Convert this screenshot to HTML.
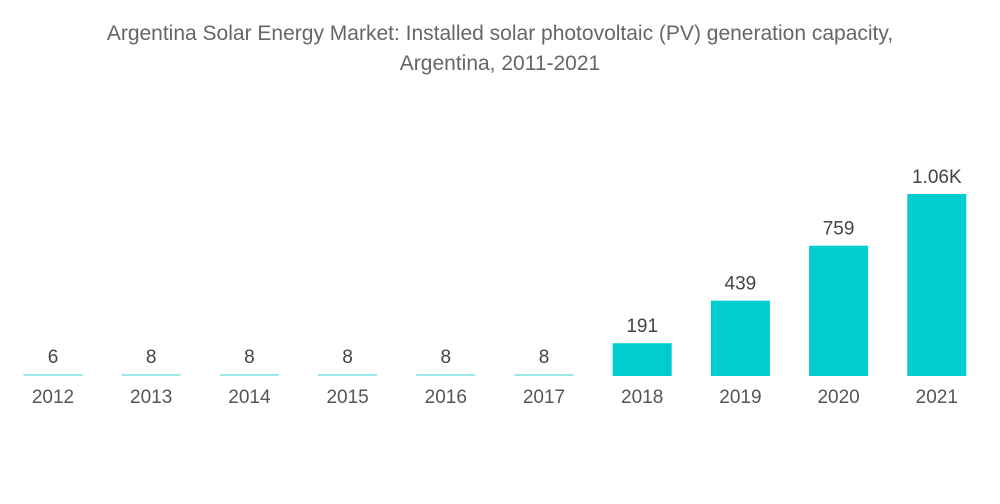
<!DOCTYPE html>
<html><head><meta charset="utf-8"><style>
body{margin:0;background:#fff;font-family:"Liberation Sans",sans-serif;}
svg{display:block}
</style></head><body>
<svg id="chart" width="1000" height="504">
<text x="500" y="40" text-anchor="middle" font-size="21" fill="#666">Argentina Solar Energy Market: Installed solar photovoltaic (PV) generation capacity,</text>
<text x="500" y="70" text-anchor="middle" font-size="21" fill="#666">Argentina, 2011-2021</text>
<g id="bars"></g>
</svg>
<script>
const categories=["2012","2013","2014","2015","2016","2017","2018","2019","2020","2021"];
const values=[6,8,8,8,8,8,191,439,759,1060];
const valueLabels=["6","8","8","8","8","8","191","439","759","1.06K"];
const baseY=376, maxH=182, maxV=1060, x0=53, step=98.2, bw=59;
function yScale(v){return baseY-Math.max(v/maxV*maxH,2);}
function xScale(i){return x0+i*step;}
const g=document.getElementById('bars');
const NS="http://www.w3.org/2000/svg";
categories.forEach((c,i)=>{
  const y=yScale(values[i]);
  const r=document.createElementNS(NS,'rect');
  r.setAttribute('x',xScale(i)-bw/2);r.setAttribute('y',y);
  r.setAttribute('width',bw);r.setAttribute('height',baseY-y);
  r.setAttribute('fill',values[i]<20?'#9ee8ea':'#00cdd0');
  
  
  g.appendChild(r);
  const t=document.createElementNS(NS,'text');
  t.setAttribute('x',xScale(i));t.setAttribute('y',y-11);
  t.setAttribute('text-anchor','middle');t.setAttribute('font-size','19');t.setAttribute('fill','#444');
  t.textContent=valueLabels[i];
  
  
  g.appendChild(t);
  const l=document.createElementNS(NS,'text');
  l.setAttribute('x',xScale(i));l.setAttribute('y',403);
  l.setAttribute('text-anchor','middle');l.setAttribute('font-size','19');l.setAttribute('fill','#555');
  l.textContent=c;
  
  
  g.appendChild(l);
});
</script>
</body></html>
